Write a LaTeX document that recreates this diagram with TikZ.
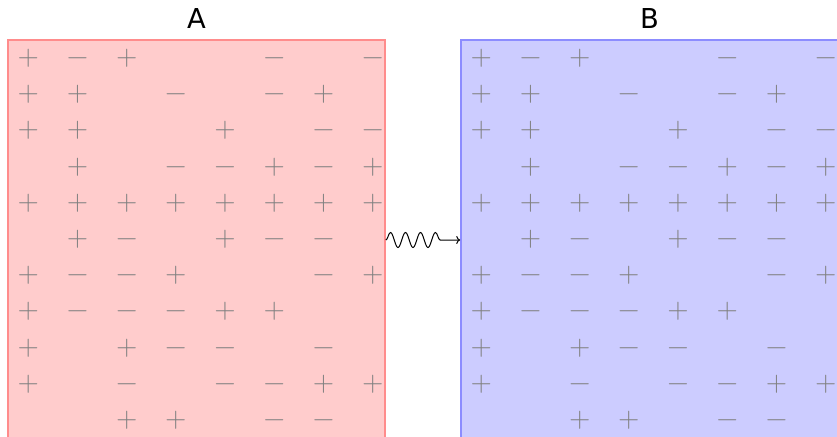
\documentclass[tikz,border=0pt]{standalone}
\usepackage{fontspec}
\newfontfamily\labelfont{DejaVu Sans}
\usetikzlibrary{decorations.pathmorphing,arrows.meta}
\tikzset{
  panel/.style={rectangle, inner sep=0pt, minimum width=377pt, minimum height=400pt, line width=1.6pt},
  sign/.style={inner sep=0pt, text height=14.5pt, text depth=0pt, text=black!50, font=\fontsize{29}{30}\selectfont},
  paneltitle/.style={anchor=base, inner sep=0pt, font=\labelfont\fontsize{27.4}{30}\selectfont},
  wave/.style={line width=1pt, decorate, decoration={snake, amplitude=7.5pt, segment length=15pt, pre length=0pt, post length=16pt}},
}
\newcommand\signgrid[2]{%
  \foreach \rw/\rowlist in {1/{p,m,p,n,n,m,n,m},2/{p,p,n,m,n,m,p,n},3/{p,p,n,n,p,n,m,m},4/{n,p,n,m,m,p,m,p},5/{p,p,p,p,p,p,p,p},6/{n,p,m,n,p,m,m,n},7/{p,m,m,p,n,n,m,p},8/{p,m,m,m,p,p,n,n},9/{p,n,p,m,m,n,m,n},10/{p,n,m,n,m,m,p,p},11/{n,n,p,p,n,m,m,n}}{%
    \foreach \sg [count=\cl] in \rowlist {%
      \if\sg p\node[sign] (#2-\rw-\cl) at ({#1+28.3+49.2*(\cl-1)},{58.3+36.2*(\rw-1)}) {+};\fi
      \if\sg m\node[sign] (#2-\rw-\cl) at ({#1+28.3+49.2*(\cl-1)},{58.3+36.2*(\rw-1)}) {−};\fi
    }%
  }%
}
\begin{document}
\begin{tikzpicture}[x=1pt,y=-1pt]
\useasboundingbox (0,0) rectangle (837,436);
\clip (0,0) rectangle (837,436);
\node[panel, draw=red!45, fill=red!20] (boxA) at (196.5,240) {};
\node[panel, draw=blue!45, fill=blue!20] (boxB) at (649.5,240) {};
\node[paneltitle] (titleA) at (196.5,28.3) {A};
\node[paneltitle] (titleB) at (649.5,28.3) {B};
\signgrid{0}{a}
\signgrid{453}{b}
\draw[wave, -{To[length=4pt,width=8pt]}] (boxA.east) -- (boxB.west);
\end{tikzpicture}
\end{document}
